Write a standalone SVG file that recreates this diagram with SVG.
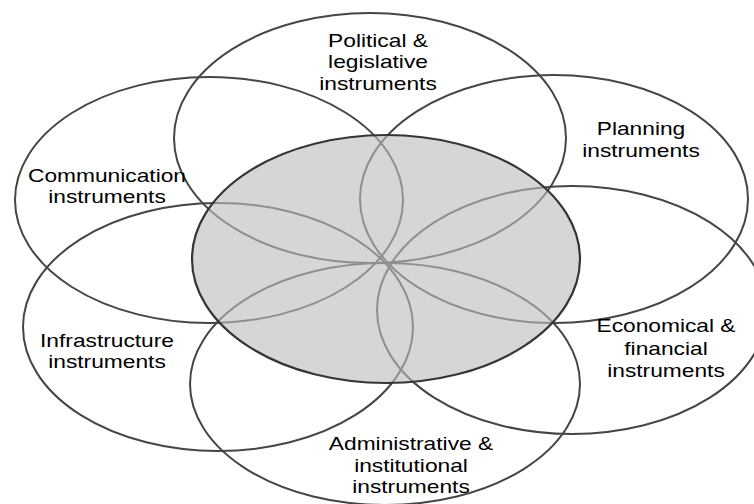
<svg xmlns="http://www.w3.org/2000/svg" width="754" height="504" viewBox="0 0 754 504">
  <style>
    .ring { fill: none; stroke: #454545; stroke-width: 2; }
    .core { fill: #bdbdbd; fill-opacity: 0.62; stroke: #353535; stroke-width: 2.2; }
    .lbl { font-family: "Liberation Sans", Arial, sans-serif; font-size: 18.5px; fill: #000; text-anchor: middle; }
  </style>
  <rect width="754" height="504" fill="#ffffff"/>
  <g id="connectors"/>
  <g id="node-political">
    <ellipse class="ring" cx="370" cy="138" rx="196" ry="125"/>
    <text class="lbl" transform="translate(378 0) scale(1.23 1)"><tspan x="0" y="47">Political &amp;</tspan><tspan x="0" y="68">legislative</tspan><tspan x="0" y="90">instruments</tspan></text>
  </g>
  <g id="node-planning">
    <ellipse class="ring" cx="554" cy="199" rx="194" ry="124"/>
    <text class="lbl" transform="translate(641 0) scale(1.23 1)"><tspan x="0" y="135">Planning</tspan><tspan x="0" y="157">instruments</tspan></text>
  </g>
  <g id="node-communication">
    <ellipse class="ring" cx="209" cy="200" rx="194" ry="123"/>
    <text class="lbl" transform="translate(107 0) scale(1.23 1)"><tspan x="0" y="182">Communication</tspan><tspan x="0" y="203">instruments</tspan></text>
  </g>
  <g id="node-infrastructure">
    <ellipse class="ring" cx="218" cy="327" rx="195" ry="124"/>
    <text class="lbl" transform="translate(107 0) scale(1.23 1)"><tspan x="0" y="347">Infrastructure</tspan><tspan x="0" y="368">instruments</tspan></text>
  </g>
  <g id="node-economical">
    <ellipse class="ring" cx="572" cy="310" rx="195" ry="124"/>
    <text class="lbl" transform="translate(666 0) scale(1.23 1)"><tspan x="0" y="332">Economical &amp;</tspan><tspan x="0" y="355">financial</tspan><tspan x="0" y="377">instruments</tspan></text>
  </g>
  <g id="node-administrative">
    <ellipse class="ring" cx="385" cy="384" rx="195" ry="121"/>
    <text class="lbl" transform="translate(411 0) scale(1.23 1)"><tspan x="0" y="450">Administrative &amp;</tspan><tspan x="0" y="472">institutional</tspan><tspan x="0" y="493">instruments</tspan></text>
  </g>
  <g id="node-core">
    <ellipse class="core" cx="386" cy="259" rx="194" ry="124"/>
  </g>
</svg>
